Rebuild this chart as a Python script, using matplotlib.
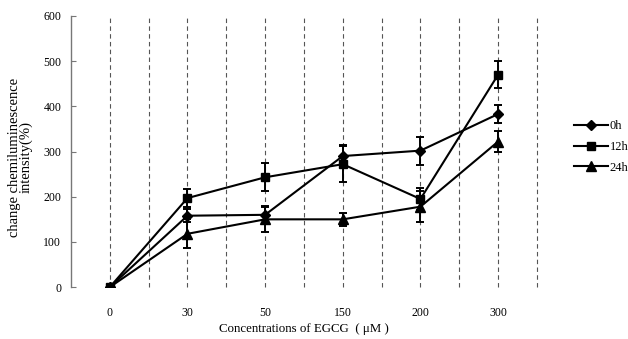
import numpy as np
import matplotlib.pyplot as plt

plt.rcParams['font.family'] = ['Liberation Serif', 'DejaVu Serif']

# data
concentrations = ['0', '30', '50', '150', '200', '300']
val_0h = [0, 158, 160, 290, 302, 383]
err_0h = [0, 15, 20, 25, 31, 20]
val_12h = [0, 197, 243, 272, 195, 470]
err_12h = [0, 20, 31, 40, 25, 30]
val_24h = [0, 118, 150, 150, 178, 322]
err_24h = [0, 32, 28, 15, 35, 23]

series = [
    ('0h', val_0h, err_0h, 'D', 5.0),
    ('12h', val_12h, err_12h, 's', 6.0),
    ('24h', val_24h, err_24h, '^', 6.5),
]

fig = plt.figure(figsize=(6.28, 3.39), dpi=100)
ax = fig.add_axes([0.113, 0.153, 0.742, 0.800])

x = np.arange(len(concentrations))

# dashed vertical guide lines at categories and midpoints
for gx in np.arange(0, len(concentrations) - 0.49, 0.5):
    ax.axvline(gx, color='#555555', linestyle=(0, (4, 3)), linewidth=0.8,
               zorder=1, clip_on=False)

handles = []
for name, vals, errs, mk, ms in series:
    c = ax.errorbar(x, vals, yerr=errs, color='black', marker=mk, markersize=ms,
                    linewidth=1.5, elinewidth=1.4, capsize=3, capthick=1.4,
                    label=name, zorder=3)
    handles.append(c.lines[0])

ax.set_xlim(-0.5, 5.5)
ax.set_ylim(0, 600)
ax.set_yticks(range(0, 601, 100))
ax.set_xticks(x)
ax.set_xticklabels(concentrations)

for s in ['top', 'right', 'bottom']:
    ax.spines[s].set_visible(False)
ax.spines['left'].set_color('#777777')
ax.spines['left'].set_linewidth(1.0)
ax.tick_params(axis='x', length=0, labelsize=8.5, pad=14)
ax.tick_params(axis='y', direction='in', length=3.5, width=0.8,
               color='#777777', labelsize=8.5, pad=7)

ax.set_xlabel('Concentrations of EGCG  ( μM )', fontsize=9.3, labelpad=3)
ax.set_ylabel('change chemiluminescence\nintensity(%)', fontsize=10.5,
              linespacing=0.85)
ax.yaxis.set_label_coords(-0.0815, 0.48)

ax.legend(handles=handles, labels=[s[0] for s in series],
          loc='center left', bbox_to_anchor=(1.08, 0.517), frameon=False,
          fontsize=9, handlelength=2.7, handletextpad=0.15, labelspacing=0.7,
          borderaxespad=0, borderpad=0)

fig.savefig('out.png', dpi=100)
